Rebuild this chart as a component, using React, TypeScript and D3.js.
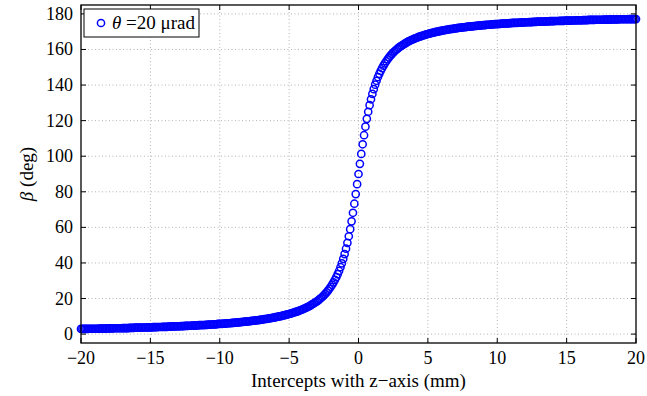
import React from 'react';
import * as d3 from 'd3';

const W = 647;
const H = 396;
const MARGIN = { top: 5, right: 11, bottom: 53, left: 81 };

// intercept positions run from -20 to 20 mm in 0.1 mm steps
const zStart = -20;
const zStep = 0.1;

// beta (deg) for z = -20.0 ... -0.1
const betaNegative = [
  2.9, 2.9, 2.9, 2.9, 2.9, 2.9, 3.0, 3.0, 3.0, 3.0, 3.0, 3.0, 3.0,
  3.1, 3.1, 3.1, 3.1, 3.1, 3.1, 3.2, 3.2, 3.2, 3.2, 3.2,
  3.3, 3.3, 3.3, 3.3, 3.3, 3.3, 3.4, 3.4, 3.4, 3.4, 3.4,
  3.5, 3.5, 3.5, 3.5, 3.6, 3.6, 3.6, 3.6, 3.6, 3.7, 3.7, 3.7, 3.7,
  3.8, 3.8, 3.8, 3.8, 3.9, 3.9, 3.9, 3.9, 4.0, 4.0, 4.0,
  4.1, 4.1, 4.1, 4.1, 4.2, 4.2, 4.2, 4.3, 4.3, 4.3, 4.4, 4.4, 4.4,
  4.5, 4.5, 4.5, 4.6, 4.6, 4.6, 4.7, 4.7, 4.8, 4.8, 4.8, 4.9, 4.9,
  5.0, 5.0, 5.1, 5.1, 5.1, 5.2, 5.2, 5.3, 5.3, 5.4, 5.4, 5.5, 5.5,
  5.6, 5.7, 5.7, 5.8, 5.8, 5.9, 5.9, 6.0, 6.1, 6.1, 6.2, 6.3, 6.3,
  6.4, 6.5, 6.6, 6.6, 6.7, 6.8, 6.9, 7.0, 7.0,
  7.1, 7.2, 7.3, 7.4, 7.5, 7.6, 7.7, 7.8, 7.9, 8.0,
  8.1, 8.2, 8.4, 8.5, 8.6, 8.7, 8.9, 9.0, 9.2, 9.3,
  9.5, 9.6, 9.8, 10.0, 10.1, 10.3, 10.5, 10.7, 10.9, 11.1,
  11.3, 11.5, 11.8, 12.0, 12.3, 12.5, 12.8, 13.1, 13.4, 13.7,
  14.0, 14.4, 14.7, 15.1, 15.5, 15.9, 16.4, 16.9, 17.4, 17.9,
  18.4, 19.0, 19.7, 20.3, 21.0, 21.8, 22.6, 23.5, 24.4, 25.5,
  26.6, 27.8, 29.1, 30.5, 32.0, 33.7, 35.5, 37.6, 39.8, 42.3,
  45.0, 48.0, 51.3, 55.0, 59.0, 63.4, 68.2, 73.3, 78.7, 84.3,
];

// beta (deg) at z = 0
const betaCenter = [90.0];

// beta (deg) for z = 0.1 ... 20.0
const betaPositive = [
  95.7, 101.3, 106.7, 111.8, 116.6, 121.0, 125.0, 128.7, 132.0, 135.0,
  137.7, 140.2, 142.4, 144.5, 146.3, 148.0, 149.5, 150.9, 152.2, 153.4,
  154.5, 155.6, 156.5, 157.4, 158.2, 159.0, 159.7, 160.3, 161.0, 161.6,
  162.1, 162.6, 163.1, 163.6, 164.1, 164.5, 164.9, 165.3, 165.6, 166.0,
  166.3, 166.6, 166.9, 167.2, 167.5, 167.7, 168.0, 168.2, 168.5, 168.7,
  168.9, 169.1, 169.3, 169.5, 169.7, 169.9, 170.0, 170.2, 170.4, 170.5,
  170.7, 170.8, 171.0, 171.1, 171.3, 171.4, 171.5, 171.6, 171.8, 171.9,
  172.0, 172.1, 172.2, 172.3, 172.4, 172.5, 172.6, 172.7, 172.8, 172.9,
  173.0, 173.0, 173.1, 173.2, 173.3, 173.4, 173.4, 173.5, 173.6, 173.7,
  173.7, 173.8, 173.9, 173.9, 174.0, 174.1, 174.1, 174.2, 174.2, 174.3,
  174.3, 174.4, 174.5, 174.5, 174.6, 174.6, 174.7, 174.7, 174.8, 174.8,
  174.9, 174.9, 174.9, 175.0, 175.0, 175.1, 175.1, 175.2, 175.2, 175.2,
  175.3, 175.3, 175.4, 175.4, 175.4, 175.5, 175.5, 175.5, 175.6, 175.6,
  175.6, 175.7, 175.7, 175.7, 175.8, 175.8, 175.8, 175.9, 175.9, 175.9,
  175.9, 176.0, 176.0, 176.0, 176.1, 176.1, 176.1, 176.1, 176.2, 176.2,
  176.2, 176.2, 176.3, 176.3, 176.3, 176.3, 176.4, 176.4, 176.4, 176.4,
  176.4, 176.5, 176.5, 176.5, 176.5, 176.6, 176.6, 176.6, 176.6, 176.6,
  176.7, 176.7, 176.7, 176.7, 176.7, 176.7, 176.8, 176.8, 176.8, 176.8,
  176.8, 176.9, 176.9, 176.9, 176.9, 176.9, 176.9, 177.0, 177.0, 177.0,
  177.0, 177.0, 177.0, 177.0, 177.1, 177.1, 177.1, 177.1, 177.1, 177.1,
];

const xTicks = [-20, -15, -10, -5, 0, 5, 10, 15, 20];
const yTicks = [0, 20, 40, 60, 80, 100, 120, 140, 160, 180];

const FONT = '"Liberation Serif", "Times New Roman", serif';
const BLUE = '#0000ff';

export default function App() {
  const x0 = MARGIN.left;
  const x1 = W - MARGIN.right;
  const y0 = MARGIN.top;
  const y1 = H - MARGIN.bottom;

  const x = d3.scaleLinear().domain([-20, 20]).range([x0, x1]);
  const y = d3.scaleLinear().domain([-5, 185]).range([y1, y0]);

  const betas = [...betaNegative, ...betaCenter, ...betaPositive];
  const points = betas.map((b, i) => ({ z: zStart + i * zStep, b }));

  const tickLen = 5;

  return (
    <svg
      width={W}
      height={H}
      style={{ position: 'absolute', left: 0, top: 0, background: '#fff' }}
      fontFamily={FONT}
    >
      <rect x={0} y={0} width={W} height={H} fill="#fff" />

      {/* grid */}
      <g stroke="#b4b4b4" strokeWidth={1} strokeDasharray="1,2.5">
        {xTicks.slice(1, -1).map(t => (
          <line key={'gx' + t} x1={x(t)} x2={x(t)} y1={y0} y2={y1} />
        ))}
        {yTicks.map(t => (
          <line key={'gy' + t} x1={x0} x2={x1} y1={y(t)} y2={y(t)} />
        ))}
      </g>

      {/* data */}
      <g fill="none" stroke={BLUE} strokeWidth={1.5}>
        {points.map((p, i) => (
          <circle key={i} cx={x(p.z)} cy={y(p.b)} r={3.6} />
        ))}
      </g>

      {/* ticks */}
      <g stroke="#000" strokeWidth={1}>
        {xTicks.map(t => (
          <g key={'tx' + t}>
            <line x1={x(t)} x2={x(t)} y1={y1} y2={y1 - tickLen} />
            <line x1={x(t)} x2={x(t)} y1={y0} y2={y0 + tickLen} />
          </g>
        ))}
        {yTicks.map(t => (
          <g key={'ty' + t}>
            <line x1={x0} x2={x0 + tickLen} y1={y(t)} y2={y(t)} />
            <line x1={x1} x2={x1 - tickLen} y1={y(t)} y2={y(t)} />
          </g>
        ))}
      </g>

      {/* frame */}
      <rect x={x0} y={y0} width={x1 - x0} height={y1 - y0} fill="none" stroke="#000" strokeWidth={1.3} />

      {/* tick labels */}
      <g fontSize={18} fill="#000">
        {xTicks.map(t => (
          <text key={'lx' + t} x={x(t)} y={y1 + 21} textAnchor="middle">
            {t < 0 ? '\u2212' + Math.abs(t) : String(t)}
          </text>
        ))}
        {yTicks.map(t => (
          <text key={'ly' + t} x={x0 - 8} y={y(t) + 6} textAnchor="end">
            {t}
          </text>
        ))}
      </g>

      {/* axis titles */}
      <text x={(x0 + x1) / 2} y={387} textAnchor="middle" fontSize={19}>
        Intercepts with z{'\u2212'}axis (mm)
      </text>
      <text
        transform={`translate(33, ${(y0 + y1) / 2}) rotate(-90)`}
        textAnchor="middle"
        fontSize={19}
      >
        <tspan fontStyle="italic">{'\u03B2'}</tspan> (deg)
      </text>

      {/* legend */}
      <g>
        <rect x={84} y={9} width={115} height={28} fill="#fff" stroke="#000" strokeWidth={1} />
        <circle cx={101} cy={23} r={3.6} fill="none" stroke={BLUE} strokeWidth={1.5} />
        <text x={112} y={29} fontSize={19}>
          <tspan fontStyle="italic">{'\u03B8'}</tspan> =20 {'\u03BC'}rad
        </text>
      </g>
    </svg>
  );
}
